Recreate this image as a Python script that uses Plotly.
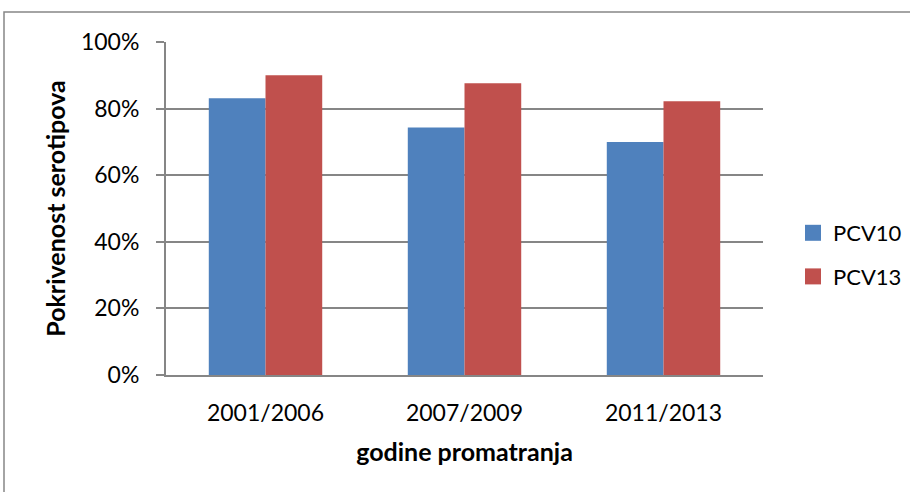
import plotly.graph_objects as go

categories = ["2001/2006", "2007/2009", "2011/2013"]
pcv10 = [0.831, 0.743, 0.700]
pcv13 = [0.900, 0.876, 0.822]
y_ticks = [0, 0.2, 0.4, 0.6, 0.8, 1.0]
y_tick_labels = ["0%", "20%", "40%", "60%", "80%", "100%"]
series_names = ["PCV10", "PCV13"]
series_colors = ["#4F81BD", "#C0504D"]

FONT = "Lato"
FS = 22
L, R, T, B = 166, 910 - 763, 42, 492 - 375
W, H = 910, 492
pw, ph = W - L - R, H - T - B

fig = go.Figure()
for name, vals, col in zip(series_names, [pcv10, pcv13], series_colors):
    fig.add_trace(go.Bar(name=name, x=categories, y=vals, showlegend=False,
                         marker=dict(color=col, line=dict(width=0))))
for i, (name, col) in enumerate(zip(series_names, series_colors)):
    fig.add_trace(go.Scatter(name=name, x=[None], y=[None], mode="markers",
                             legendgroup=f"g{i}",
                             marker=dict(symbol="square", size=16, color=col)))

fig.update_layout(
    width=W, height=H,
    margin=dict(l=L, r=R, t=T, b=B, pad=0, autoexpand=False),
    paper_bgcolor="white", plot_bgcolor="white",
    barmode="group", bargap=0.43, bargroupgap=0,
    font=dict(family=FONT, size=FS, color="black"),
    showlegend=True,
    legend=dict(x=(793 - L) / pw, y=(375 - 212) / ph, xanchor="left", yanchor="top",
                font=dict(family=FONT, size=FS), traceorder="grouped",
                tracegroupgap=12, bgcolor="rgba(0,0,0,0)", itemwidth=30),
    xaxis=dict(
        showline=True, linecolor="#868686", linewidth=2,
        ticks="", showgrid=False,
        tickfont=dict(family=FONT, size=23),
        ticklabelstandoff=16,
        title=dict(text="<b>godine promatranja</b>", font=dict(family=FONT, size=25), standoff=19),
    ),
    yaxis=dict(
        range=[0, 1.0], tickvals=y_ticks, ticktext=y_tick_labels,
        showline=True, linecolor="#868686", linewidth=2,
        ticks="outside", ticklen=8, tickcolor="#868686", tickwidth=2,
        showgrid=True, gridcolor="#868686", gridwidth=2,
        zeroline=False,
        tickfont=dict(family=FONT, size=23),
        ticklabelstandoff=12,
        title=dict(text="<b>Pokrivenost serotipova</b>", font=dict(family=FONT, size=25), standoff=8),
    ),
    shapes=[dict(type="rect", xref="paper", yref="paper",
                 x0=(4 - L) / pw, x1=(1000 - L) / pw,
                 y0=(375 - 600) / ph, y1=(375 - 12) / ph,
                 line=dict(color="#868686", width=1.5), fillcolor="rgba(0,0,0,0)", layer="below")],
)

fig.write_html("out.html", config={"displayModeBar": False},
               post_script="document.body.style.margin='0';document.body.style.overflow='hidden';")
